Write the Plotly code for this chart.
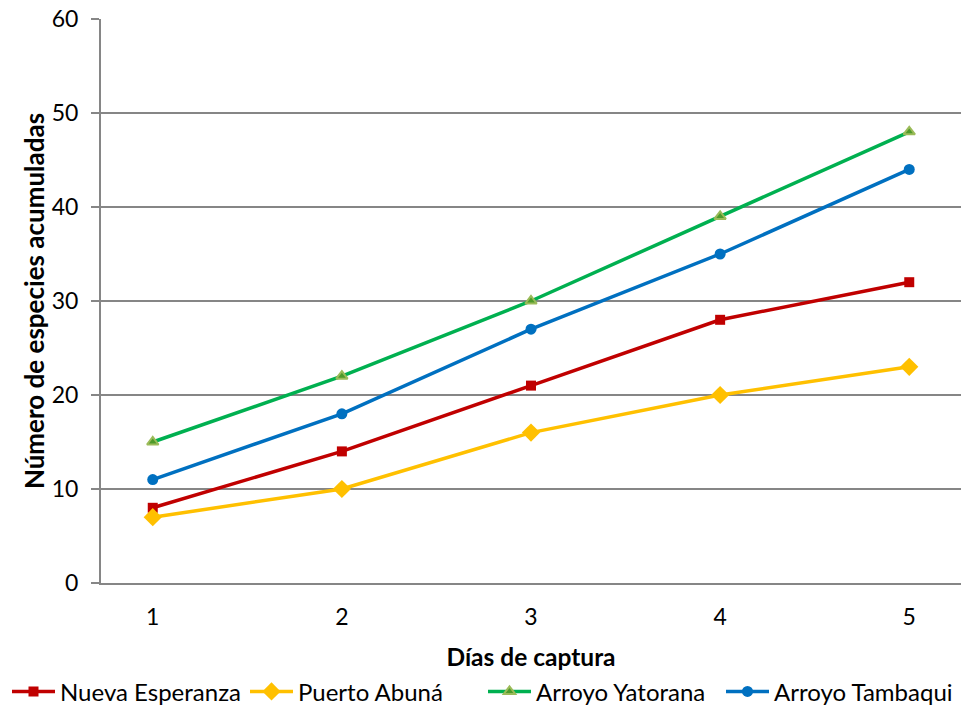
import plotly.graph_objects as go

dias = ["1", "2", "3", "4", "5"]
nueva_esperanza = [8, 14, 21, 28, 32]
puerto_abuna = [7, 10, 16, 20, 23]
arroyo_yatorana = [15, 22, 30, 39, 48]
arroyo_tambaqui = [11, 18, 27, 35, 44]
y_ticks = [0, 10, 20, 30, 40, 50, 60]

FONT = "Lato"

fig = go.Figure()
series = [
    ("Nueva Esperanza", nueva_esperanza, "#C00000", dict(symbol="square", size=10, color="#C00000")),
    ("Puerto Abuná", puerto_abuna, "#FFC000", dict(symbol="diamond", size=14, color="#FFC000")),
    ("Arroyo Yatorana", arroyo_yatorana, "#00B050", dict(symbol="triangle-up", size=10, color="#4E9A2A", line=dict(color="#9BBB59", width=2))),
    ("Arroyo Tambaqui", arroyo_tambaqui, "#0070C0", dict(symbol="circle", size=11, color="#0070C0")),
]
for name, vals, col, mk in series:
    fig.add_trace(go.Scatter(x=dias, y=vals, name=name, mode="lines+markers",
                             line=dict(color=col, width=3.5), marker=mk))

fig.update_layout(
    width=965, height=702,
    margin=dict(l=93, r=12, t=11, b=127, autoexpand=False),
    paper_bgcolor="white", plot_bgcolor="white",
    font=dict(family=FONT, size=22, color="black"),
    showlegend=True,
    legend=dict(orientation="h", x=-0.1093, xanchor="left", y=-0.193, yanchor="middle",
                font=dict(size=24), itemwidth=43, tracegroupgap=0,
                entrywidth=180, entrywidthmode="pixels"),
    xaxis=dict(type="category", showgrid=False, showline=True, linecolor="#868686", linewidth=2,
               ticks="", tickfont=dict(size=23), automargin=False, ticklabelstandoff=12,
               title=dict(text="<b>Días de captura</b>", font=dict(size=24.5), standoff=20)),
    yaxis=dict(range=[0, 60], tickvals=y_ticks, showgrid=True, gridcolor="#868686", gridwidth=1.5,
               showline=True, linecolor="#868686", linewidth=2, ticks="outside", ticklen=8,
               tickcolor="#868686", tickwidth=1.5, tickfont=dict(size=23), zeroline=False,
               automargin=False, ticklabelstandoff=8, ticklabeloverflow="allow",
               title=dict(text="<b>Número de especies acumuladas</b>", font=dict(size=26), standoff=0)),
)

fig.write_html("out.html")
